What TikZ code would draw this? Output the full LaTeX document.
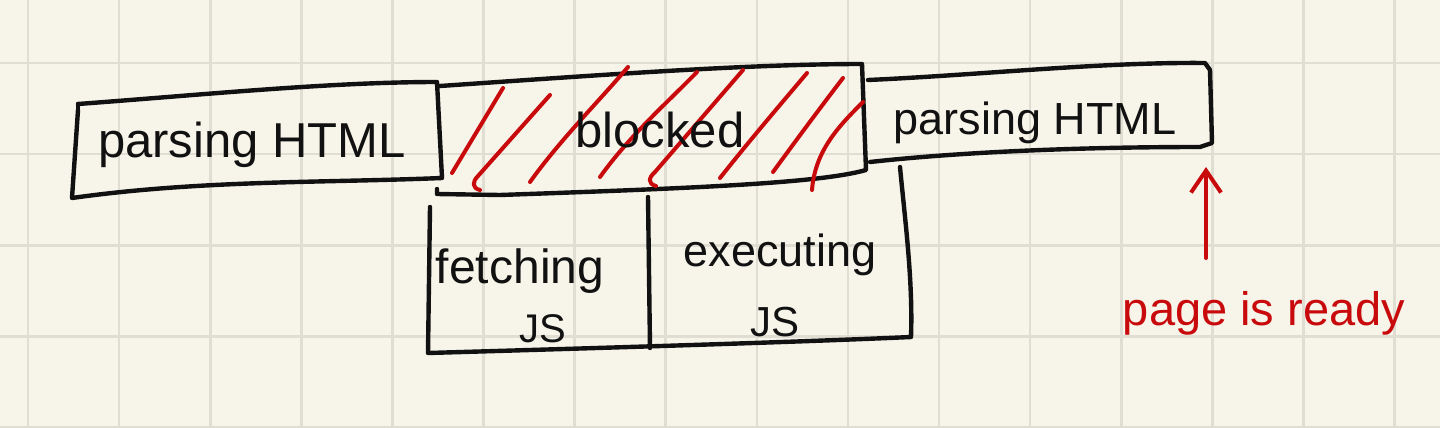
\documentclass[tikz,border=0pt]{standalone}
\usepackage{fontspec}
\setmainfont{Liberation Sans}
\usetikzlibrary{arrows.meta}
\definecolor{paper}{HTML}{F7F5EA}
\definecolor{gridc}{HTML}{E0DDD2}
\definecolor{pen}{HTML}{111111}
\definecolor{redpen}{HTML}{C80A0C}
\tikzset{
  gridline/.style={gridc, line width=2.6pt},
  ink/.style={pen, line width=4.4pt, line cap=round, line join=round},
  hatch/.style={redpen, line width=4pt, line cap=round, line join=round},
  label/.style={pen, inner sep=0pt, anchor=base},
  redlabel/.style={redpen, inner sep=0pt, anchor=base},
}
\begin{document}
\begin{tikzpicture}[x=1pt,y=-1pt]
\useasboundingbox (0,0) rectangle (1440,428);
\fill[paper] (0,0) rectangle (1440,428);
% grid
\foreach \i in {0,...,15} {
  \draw[gridline] ({28+91.1*\i},0) -- ({28+91.1*\i},428);
}
\foreach \j in {0,...,4} {
  \draw[gridline] (0,{63+91.1*\j}) -- (1440,{63+91.1*\j});
}

% ---- corner coordinates of the hand drawn boxes
\coordinate (a1) at (78,104);  \coordinate (b1) at (437,82);
\coordinate (c1) at (442,178); \coordinate (d1) at (72,198);

\coordinate (a2) at (440,86);  \coordinate (b2) at (862,64);
\coordinate (c2) at (866,170); \coordinate (d2) at (437,194);

\coordinate (a3) at (868,80);  \coordinate (b3) at (1205,63);
\coordinate (c3) at (1212,143); \coordinate (d3) at (870,162);

\coordinate (a4) at (430,207); \coordinate (d4) at (428,353);
\coordinate (c4) at (911,337); \coordinate (b4) at (900,167);
\coordinate (m4t) at (648,197); \coordinate (m4b) at (650,348);

% ---- box 1
\draw[ink] (a1) -- ++(0,10);
\draw[ink] (a1) .. controls (200,95) and (330,82) .. (b1) -- (c1)
  .. controls (320,183) and (200,180) .. (d1) -- (78,110);
% ---- box 2 (blocked)
\draw[ink] (a2) .. controls (600,75) and (750,64) .. (b2) -- (c2)
  .. controls (820,183) and (700,188) .. (500,195) -- (d2) -- ++(0,-5);
% ---- box 3
\draw[ink] (a3) .. controls (980,75) and (1100,62) .. (b3)
  -- (1210,70) -- (c3) -- (1200,147)
  .. controls (1080,147) and (960,152) .. (d3);
% ---- box 4 (fetching / executing)
\draw[ink] (a4) -- (d4) .. controls (600,348) and (800,342) .. (c4)
  .. controls (913,280) and (905,220) .. (b4);
\draw[ink] (m4t) -- (m4b);

% ---- red hatching over "blocked"
\draw[hatch] (452,173) -- (503,88);
\draw[hatch] (480,190) .. controls (472,188) and (472,182) .. (478,176) -- (550,95);
\draw[hatch] (530,182) .. controls (560,140) and (600,100) .. (628,67);
\draw[hatch] (600,177) .. controls (630,135) and (670,100) .. (697,72);
\draw[hatch] (656,186) .. controls (648,184) and (648,178) .. (655,172) -- (743,70);
\draw[hatch] (720,178) .. controls (750,140) and (780,105) .. (807,73);
\draw[hatch] (773,172) .. controls (800,135) and (820,108) .. (843,78);
\draw[hatch] (812,190) .. controls (815,150) and (840,125) .. (863,102);

% ---- texts
\node[label, font=\fontsize{49}{49}\selectfont] (t1) at (252,157) {parsing HTML};
\node[label, font=\fontsize{49}{49}\selectfont] (t2) at (660,147) {blocked};
\node[label, font=\fontsize{45}{45}\selectfont] (t3) at (1035,134) {parsing HTML};
\node[label, font=\fontsize{48}{48}\selectfont] (t4) at (520,283) {fetching};
\node[label, font=\fontsize{40}{40}\selectfont] (t5) at (543,342) {JS};
\node[label, font=\fontsize{45}{45}\selectfont] (t6) at (780,266) {executing};
\node[label, font=\fontsize{42}{42}\selectfont] (t7) at (775,336) {JS};
\node[redlabel, font=\fontsize{47}{47}\selectfont] (ready) at (1264,325) {page is ready};

% ---- arrow
\coordinate (arrowfoot) at (1206,258);
\coordinate (arrowtip) at (1206,167);
\draw[hatch, -{Straight Barb[length=22pt,width=30pt]}] (arrowfoot) -- (arrowtip);
\end{tikzpicture}
\end{document}
